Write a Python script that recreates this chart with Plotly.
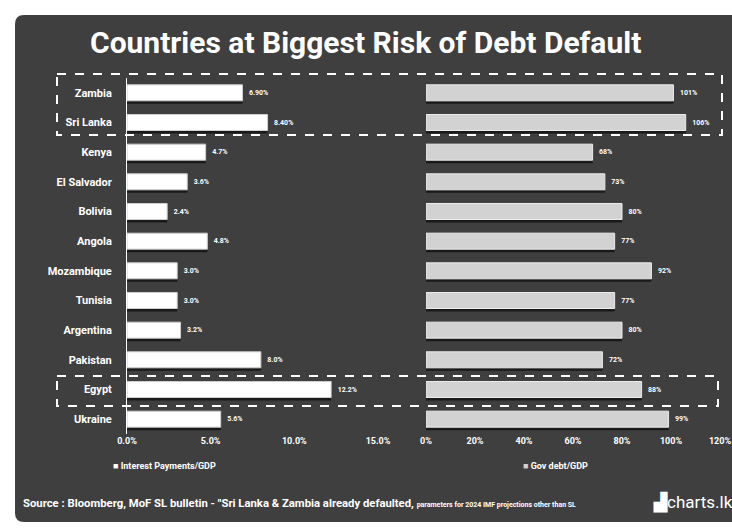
import plotly.graph_objects as go

countries = ["Zambia", "Sri Lanka", "Kenya", "El Salvador", "Bolivia", "Angola",
             "Mozambique", "Tunisia", "Argentina", "Pakistan", "Egypt", "Ukraine"]
interest_gdp = [6.9, 8.4, 4.7, 3.6, 2.4, 4.8, 3.0, 3.0, 3.2, 8.0, 12.2, 5.6]
interest_labels = ["6.90%", "8.40%", "4.7%", "3.6%", "2.4%", "4.8%", "3.0%", "3.0%",
                   "3.2%", "8.0%", "12.2%", "5.6%"]
debt_gdp = [101, 106, 68, 73, 80, 77, 92, 77, 80, 72, 88, 99]
debt_labels = [f"{v}%" for v in debt_gdp]
left_ticks = [0, 5, 10, 15]
left_ticktext = ["0.0%", "5.0%", "10.0%", "15.0%"]
right_ticks = [0, 20, 40, 60, 80, 100, 120]
right_ticktext = ["0%", "20%", "40%", "60%", "80%", "100%", "120%"]

W, H = 732, 530
BG = "#3f3f3f"
FONT = "Roboto, Lato, sans-serif"


def px(x):
    return x / W


def py(y):
    return 1 - y / H


BW = 0.54
fig = go.Figure()

# shadows
fig.add_trace(go.Bar(y=countries, x=interest_gdp, orientation="h", width=BW,
                     offset=-BW / 2 + 0.1, marker=dict(color="rgba(0,0,0,0.6)", line=dict(width=0)),
                     hoverinfo="skip", showlegend=False, xaxis="x", yaxis="y"))
fig.add_trace(go.Bar(y=countries, x=debt_gdp, orientation="h", width=BW,
                     offset=-BW / 2 + 0.1, marker=dict(color="rgba(0,0,0,0.6)", line=dict(width=0)),
                     hoverinfo="skip", showlegend=False, xaxis="x2", yaxis="y2"))
# bars
fig.add_trace(go.Bar(y=countries, x=interest_gdp, orientation="h", width=BW, offset=-BW / 2,
                     name="Interest Payments/GDP",
                     marker=dict(color="#ffffff", line=dict(color="#cfcfcf", width=1)),
                     text=interest_labels, texttemplate="  %{text}", textposition="outside",
                     cliponaxis=False,
                     textfont=dict(family=FONT, size=7, color="white", weight="bold"),
                     showlegend=False, xaxis="x", yaxis="y"))
fig.add_trace(go.Bar(y=countries, x=debt_gdp, orientation="h", width=BW, offset=-BW / 2,
                     name="Gov debt/GDP",
                     marker=dict(color="#d2d2d2", line=dict(color="#ececec", width=1)),
                     text=debt_labels, texttemplate="  %{text}", textposition="outside",
                     cliponaxis=False,
                     textfont=dict(family=FONT, size=7, color="white", weight="bold"),
                     showlegend=False, xaxis="x2", yaxis="y2"))

ydom = [py(434), py(78)]
axis_font = dict(family=FONT, size=9, color="white", weight="bold")

r = 9
x0, x1, y0, y1 = 15, 760, 15, 522
path = (f"M {px(x0 + r)} {py(y0)} L {px(x1 - r)} {py(y0)} "
        f"Q {px(x1)} {py(y0)} {px(x1)} {py(y0 + r)} L {px(x1)} {py(y1 - r)} "
        f"Q {px(x1)} {py(y1)} {px(x1 - r)} {py(y1)} L {px(x0 + r)} {py(y1)} "
        f"Q {px(x0)} {py(y1)} {px(x0)} {py(y1 - r)} L {px(x0)} {py(y0 + r)} "
        f"Q {px(x0)} {py(y0)} {px(x0 + r)} {py(y0)} Z")

shapes = [
    dict(type="path", path=path, xref="paper", yref="paper", fillcolor=BG,
         line=dict(width=0), layer="below"),
    dict(type="rect", xref="paper", yref="paper", x0=px(57), x1=px(722), y0=py(74), y1=py(135),
         line=dict(color="white", width=2, dash="dash"), layer="above"),
    dict(type="rect", xref="paper", yref="paper", x0=px(57), x1=px(718), y0=py(376), y1=py(406),
         line=dict(color="white", width=2, dash="dash"), layer="above"),
]

annotations = [
    dict(text="Countries at Biggest Risk of Debt Default", x=px(365), y=py(43),
         xref="paper", yref="paper", showarrow=False, xanchor="center", yanchor="middle",
         font=dict(family=FONT, size=30, color="white", weight="bold")),
    dict(text="<span style='color:#ffffff'>■</span> Interest Payments/GDP", x=px(111), y=py(466),
         xref="paper", yref="paper", showarrow=False, xanchor="left", yanchor="middle",
         font=dict(family=FONT, size=9, color="white", weight="bold")),
    dict(text="<span style='color:#d2d2d2'>■</span> Gov debt/GDP", x=px(521), y=py(466),
         xref="paper", yref="paper", showarrow=False, xanchor="left", yanchor="middle",
         font=dict(family=FONT, size=9, color="white", weight="bold")),
    dict(text="Source : Bloomberg, MoF SL bulletin - \"Sri Lanka &amp; Zambia already defaulted, "
              "<span style='font-size:7px'>parameters for 2024 IMF projections other than SL</span>",
         x=px(21), y=py(503), xref="paper", yref="paper", showarrow=False, xanchor="left",
         yanchor="middle", font=dict(family=FONT, size=11.3, color="white", weight="bold")),
    dict(text="<b>▟</b>charts.lk", x=px(651), y=py(502), xref="paper", yref="paper",
         showarrow=False, xanchor="left", yanchor="middle",
         font=dict(family=FONT, size=17, color="white")),
]

fig.update_layout(
    template="none",
    width=W, height=H,
    margin=dict(l=0, r=0, t=0, b=0),
    paper_bgcolor="white",
    plot_bgcolor="rgba(0,0,0,0)",
    barmode="overlay",
    showlegend=False,
    xaxis=dict(domain=[px(127), px(378)], range=[0, 15], tickvals=left_ticks,
               ticktext=left_ticktext, showgrid=False, zeroline=False, showline=False,
               tickfont=axis_font, ticks="", automargin=False, anchor="y"),
    yaxis=dict(domain=ydom, categoryorder="array", categoryarray=countries,
               autorange="reversed", showgrid=False, zeroline=False, showline=True,
               linecolor="white", linewidth=1, ticks="outside", ticklen=12,
               tickcolor="rgba(0,0,0,0)",
               tickfont=dict(family=FONT, size=11, color="white", weight="bold"),
               automargin=False, anchor="x"),
    xaxis2=dict(domain=[px(426), px(720)], range=[0, 120], tickvals=right_ticks,
                ticktext=right_ticktext, showgrid=False, zeroline=False, showline=False,
                tickfont=axis_font, ticks="", automargin=False, anchor="y2"),
    yaxis2=dict(domain=ydom, categoryorder="array", categoryarray=countries,
                autorange="reversed", showgrid=False, zeroline=False, showline=False,
                showticklabels=False, automargin=False, anchor="x2"),
    shapes=shapes,
    annotations=annotations,
)

fig.write_html("out.html", config={"displayModeBar": False},
               post_script="document.body.style.margin='0';document.body.style.overflow='hidden';")
